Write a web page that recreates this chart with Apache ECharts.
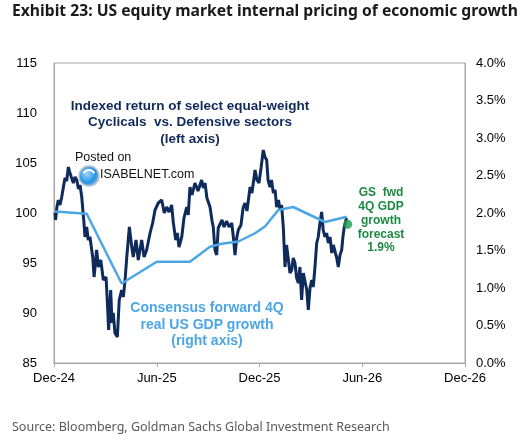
<!DOCTYPE html>
<html>
<head>
<meta charset="utf-8">
<script src="https://cdn.jsdelivr.net/npm/echarts@6/dist/echarts.min.js"></script>
<style>
  html, body { margin: 0; padding: 0; background: #fff; }
  #chart { width: 530px; height: 440px; }
</style>
</head>
<body>
<div id="chart"></div>
<script>
var myChart = echarts.init(document.getElementById('chart'));

// x values are months since Dec-24
var xTickLabels = ['Dec-24', 'Jun-25', 'Dec-25', 'Jun-26', 'Dec-26'];

// cyclicals vs defensives, indexed (left axis)
var cycMonths = [0.06, 0.09, 0.17, 0.25, 0.35, 0.45, 0.55, 0.64, 0.74, 0.84, 0.93, 1.03, 1.13, 1.23, 1.33,
    1.43, 1.52, 1.62, 1.75, 1.81, 1.91, 2.00, 2.10, 2.26, 2.34, 2.49, 2.59, 2.73, 2.88, 3.04, 3.11,
    3.19, 3.31, 3.39, 3.46, 3.56, 3.70, 3.81, 3.95, 4.05, 4.15, 4.25, 4.40, 4.54, 4.63, 4.79, 4.92,
    5.12, 5.26, 5.41, 5.61, 5.76, 5.90, 6.09, 6.29, 6.44, 6.58, 6.72, 6.87, 6.97, 7.11, 7.20, 7.30,
    7.46, 7.59, 7.75, 7.84, 7.94, 8.06, 8.23, 8.41, 8.62, 8.72, 8.82, 8.93, 9.11, 9.23, 9.30, 9.40,
    9.50, 9.59, 9.69, 9.81, 9.93, 10.08, 10.22, 10.38, 10.48, 10.57, 10.67, 10.76, 10.92, 11.04, 11.15,
    11.27, 11.45, 11.56, 11.74, 11.85, 11.97, 12.09, 12.22, 12.32, 12.42, 12.50, 12.61, 12.70, 12.81,
    12.91, 13.00, 13.11, 13.20, 13.29, 13.39, 13.49, 13.58, 13.68, 13.78, 13.88, 13.97, 14.07, 14.17,
    14.27, 14.36, 14.46, 14.56, 14.66, 14.76, 14.85, 14.95, 15.05, 15.14, 15.24, 15.34, 15.43, 15.53,
    15.63, 15.72, 15.82, 15.92, 16.02, 16.12, 16.22, 16.31, 16.41, 16.51, 16.60, 16.70, 16.80, 16.87,
    16.95, 17.08];
var cycValues = [100.0, 99.3, 100.6, 101.3, 100.8, 101.6, 102.6, 103.5, 103.2, 104.6, 104.0, 104.1, 103.0, 103.6, 103.3,
    102.4, 102.8, 101.6, 99.0, 97.6, 98.6, 97.3, 97.6, 95.6, 93.6, 96.3, 94.6, 95.3, 93.3, 93.6, 91.3,
    88.3, 92.3, 89.0, 90.0, 88.0, 87.6, 91.3, 92.3, 91.6, 93.3, 95.6, 98.6, 96.6, 95.6, 97.3, 95.3,
    97.3, 95.6, 96.3, 98.0, 99.0, 100.3, 101.0, 101.3, 100.0, 100.6, 100.1, 100.8, 99.0, 97.3, 98.0, 96.6,
    97.6, 99.5, 100.6, 99.8, 102.6, 101.8, 103.0, 102.2, 103.3, 102.5, 103.0, 101.5, 100.6, 99.2, 98.6, 96.3,
    95.8, 98.5, 98.3, 99.3, 98.6, 99.2, 98.6, 99.0, 97.5, 95.8, 97.5, 98.3, 98.8, 100.5, 101.0,
    100.2, 102.6, 102.0, 104.3, 103.3, 103.0, 104.5, 106.3, 105.6, 105.3, 103.3, 102.6, 103.3, 102.0,
    102.3, 100.6, 101.3, 100.3, 100.8, 98.6, 94.6, 96.8, 96.6, 94.0, 94.3, 95.5, 95.0, 93.5,
    93.0, 94.6, 91.3, 94.0, 94.0, 92.3, 90.3, 92.5, 93.3, 92.6, 94.6, 97.0, 97.6, 99.0,
    100.1, 98.3, 97.6, 98.0, 97.0, 97.6, 96.0, 96.8, 96.6, 95.5, 94.6, 95.8, 96.3, 97.6,
    98.6, 99.5];

// consensus forward 4Q real GDP growth, % (right axis)
var gdpMonths = [0.06, 1.91, 3.95, 6.00, 7.94, 9.11, 9.79, 10.76, 11.74, 12.32, 13.10, 13.97, 15.82, 17.09];
var gdpValues = [2.02, 1.99, 1.06, 1.35, 1.35, 1.55, 1.59, 1.62, 1.73, 1.82, 2.04, 2.08, 1.88, 1.95];

// GS forecast marker
var gsMonth = 17.15;
var gsValue = 1.85;

function pairs(xs, ys) {
    var res = [];
    for (var i = 0; i < xs.length; i++) {
        res.push([xs[i], ys[i]]);
    }
    return res;
}

var axisFont = {color: '#000', fontSize: 13, fontFamily: 'Liberation Sans'};

option = {
    backgroundColor: '#fff',
    animation: false,
    grid: {
        left: 54, right: 65, top: 63, bottom: 77,
        show: true,
        borderColor: '#a6a6a6',
        borderWidth: 1
    },
    xAxis: {
        type: 'value',
        min: 0, max: 24, interval: 6,
        splitLine: {show: false},
        axisLine: {lineStyle: {color: '#a6a6a6'}},
        axisTick: {show: true, length: 4, lineStyle: {color: '#a6a6a6'}},
        axisLabel: Object.assign({
            margin: 9,
            formatter: function (v) { return xTickLabels[v / 6]; }
        }, axisFont)
    },
    yAxis: [
        {
            type: 'value',
            min: 85, max: 115, interval: 5,
            splitLine: {show: false},
            axisLine: {show: true, lineStyle: {color: '#a6a6a6'}},
            axisTick: {show: false},
            axisLabel: Object.assign({margin: 17}, axisFont)
        },
        {
            type: 'value',
            min: 0, max: 4, interval: 0.5,
            splitLine: {show: false},
            axisLine: {show: true, lineStyle: {color: '#a6a6a6'}},
            axisTick: {show: false},
            axisLabel: Object.assign({
                margin: 11,
                formatter: function (v) { return v.toFixed(1) + '%'; }
            }, axisFont)
        }
    ],
    graphic: [
        {type: 'text', left: 12, top: 4, style: {
            text: 'Exhibit 23: US equity market internal pricing of economic growth',
            font: 'bold 15.7px "Noto Sans"', fill: '#1a1a1a'}},
        {type: 'text', x: 190, y: 98, style: {
            text: 'Indexed return of select equal-weight\nCyclicals  vs. Defensive sectors\n(left axis)',
            font: 'bold 13.5px "Liberation Sans"', fill: '#0f2a5a', align: 'center', lineHeight: 16.5}},
        {type: 'text', x: 75, y: 151, style: {
            text: 'Posted on', font: '12.5px "Liberation Sans"', fill: '#111'}},
        {type: 'text', x: 100, y: 168, style: {
            text: 'ISABELNET.com', font: '12.5px "Liberation Sans"', fill: '#111'}},
        {type: 'circle', shape: {cx: 89, cy: 176, r: 10}, z: 10, style: {
            fill: new echarts.graphic.RadialGradient(0.4, 0.4, 0.7, [
                {offset: 0, color: '#9fd8ff'}, {offset: 0.6, color: '#1e90e0'}, {offset: 1, color: '#d9dfe6'}]),
            stroke: '#b8c2cc', lineWidth: 1.5}},
        {type: 'arc', shape: {cx: 89, cy: 176, r: 6, startAngle: 3.6, endAngle: 5.8}, z: 11, style: {
            stroke: '#fff', lineWidth: 2, fill: null}},
        {type: 'text', x: 207, y: 300, style: {
            text: 'Consensus forward 4Q\nreal US GDP growth\n(right axis)',
            font: 'bold 14px "Liberation Sans"', fill: '#4da6e4', align: 'center', lineHeight: 16.5}},
        {type: 'text', x: 381, y: 186, style: {
            text: 'GS  fwd\n4Q GDP\ngrowth\nforecast\n1.9%',
            font: 'bold 12px "Liberation Sans"', fill: '#1c8a45', align: 'center', lineHeight: 13.8}},
        {type: 'text', left: 12, top: 421, style: {
            text: 'Source: Bloomberg, Goldman Sachs Global Investment Research',
            font: '12.5px "Noto Sans"', fill: '#595959'}}
    ],
    series: [
        {
            name: 'Cyclicals vs. Defensives',
            type: 'line',
            yAxisIndex: 0,
            data: pairs(cycMonths, cycValues),
            showSymbol: false,
            lineStyle: {color: '#0f2b5b', width: 3},
            z: 2
        },
        {
            name: 'Consensus GDP',
            type: 'line',
            yAxisIndex: 1,
            data: pairs(gdpMonths, gdpValues),
            showSymbol: false,
            lineStyle: {color: '#4ba6e6', width: 2.5},
            z: 3
        },
        {
            name: 'GS forecast',
            type: 'scatter',
            yAxisIndex: 1,
            data: [[gsMonth, gsValue]],
            symbolSize: 9,
            itemStyle: {color: '#1a9a4a'},
            z: 4
        }
    ]
};

myChart.setOption(option);
</script>
</body>
</html>
